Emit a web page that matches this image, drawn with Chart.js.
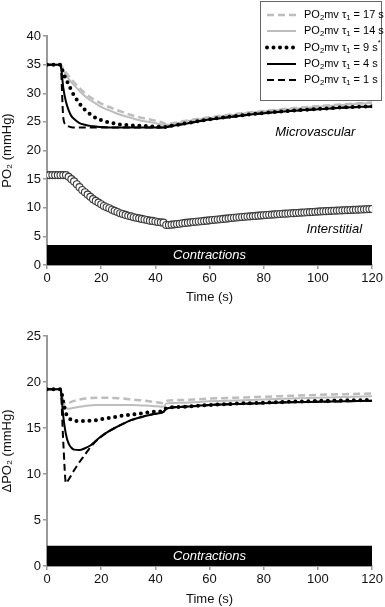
<!DOCTYPE html>
<html><head><meta charset="utf-8">
<script src="https://cdn.jsdelivr.net/npm/chart.js@4.4.1/dist/chart.umd.min.js"></script>
<style>
html,body{margin:0;padding:0;background:#fff;width:385px;height:607px;overflow:hidden}
#c1{position:absolute;left:0;top:0}
#c2{position:absolute;left:0;top:300px}
</style></head><body>
<canvas id="c1" width="385" height="305"></canvas>
<canvas id="c2" width="385" height="307"></canvas>
<script>
// ---------- DATA ----------
const xTicks = [0, 20, 40, 60, 80, 100, 120];
const legendLabels = ['17 s', '14 s', '9 s', '4 s', '1 s'];

// Microvascular PO2 (top panel)
const timeMv = [0,5,6,7,8,9,10,12,14,16,18,20,22,25,28,31,35,39,43,44,50,60,70,80,90,100,110,120];
const mvTau1  = [35,35,25.8,24.5,24.2,24.05,24,24,24,24,24,24,24,24,24,24,24,24,24,24.1,24.6,25.4,26.0,26.5,26.9,27.2,27.5,27.7];
const mvTau4  = [35,35,31.0,28.5,27.0,26.0,25.5,24.8,24.5,24.3,24.2,24.1,24.05,24,24,24,24,24,24,24.1,24.6,25.4,26.0,26.5,26.9,27.2,27.5,27.7];
const mvTau9  = [35,35,33.5,32.5,31.5,30.5,29.6,28.2,27.1,26.3,25.7,25.3,25.0,24.7,24.5,24.4,24.3,24.2,24.1,24.15,24.65,25.45,26.05,26.55,26.95,27.25,27.55,27.75];
const mvTau14 = [35,35,34.0,33.2,32.5,31.9,31.4,30.4,29.5,28.8,28.2,27.6,27.2,26.6,26.1,25.7,25.2,24.9,24.5,24.5,25.0,25.7,26.3,26.8,27.25,27.65,28.0,28.3];
const mvTau17 = [35,35,34.3,33.6,33.0,32.4,31.9,30.9,30.0,29.3,28.7,28.2,27.8,27.2,26.7,26.2,25.7,25.3,24.8,24.6,25.1,25.8,26.4,26.9,27.35,27.75,28.1,28.4];

// Interstitial PO2 (top panel, circles)
const timeIs = [0,1,2,3,4,5,6,7,8,9,10,11,12,13,14,15,16,17,18,19,20,21,22,23,24,25,26,27,28,29,30,
  31,32,33,34,35,36,37,38,39,40,41,42,43,44,45,46,47,48,49,50,51,52,53,54,55,56,57,58,59,60,
  61,62,63,64,65,66,67,68,69,70,71,72,73,74,75,76,77,78,79,80,81,82,83,84,85,86,87,88,89,90,
  91,92,93,94,95,96,97,98,99,100,101,102,103,104,105,106,107,108,109,110,111,112,113,114,115,116,117,118,119,120];
const isPO2 = [15.7,15.7,15.7,15.7,15.7,15.7,15.7,15.7,15.4,15.0,14.6,14.1,13.6,13.1,12.7,12.3,11.9,11.5,11.2,10.9,10.6,
  10.3,10.1,9.9,9.65,9.45,9.25,9.05,8.9,8.75,8.6,
  8.5,8.35,8.25,8.15,8.05,7.95,7.85,7.75,7.7,7.6,7.5,7.45,7.4,7.0,7.0,7.05,7.1,7.15,7.2,7.3,
  7.35,7.4,7.45,7.5,7.55,7.6,7.65,7.7,7.75,7.8,
  7.85,7.9,7.95,8.0,8.05,8.1,8.15,8.2,8.25,8.3,8.34,8.38,8.42,8.46,8.5,8.54,8.58,8.62,8.66,8.7,
  8.74,8.77,8.8,8.84,8.87,8.9,8.94,8.97,9.0,9.03,9.06,9.09,9.12,9.15,9.18,9.21,9.24,9.27,9.3,9.33,
  9.36,9.38,9.41,9.43,9.46,9.48,9.5,9.53,9.55,9.57,9.59,9.61,9.63,9.65,9.68,9.7,9.72,9.74,9.76,9.78];

// Delta PO2 (bottom panel)
const timeD = [0,5,6,7,8,9,10,12,14,16,18,20,22,25,28,31,35,39,43,44,50,60,70,80,90,100,110,120];
const dTau1  = [19.2,19.2,13.5,9.0,9.4,9.9,10.4,11.3,12.1,12.9,13.55,14.05,14.5,15.0,15.45,15.85,16.2,16.5,16.75,17.1,17.3,17.5,17.6,17.7,17.8,17.85,17.9,17.95];
const dTau4  = [19.2,19.2,16.3,14.3,13.3,12.85,12.65,12.6,12.8,13.1,13.6,14.1,14.5,15.0,15.45,15.85,16.2,16.5,16.75,17.1,17.3,17.5,17.6,17.7,17.8,17.85,17.9,17.95];
const dTau9  = [19.2,19.2,17.8,16.6,16.1,15.9,15.8,15.75,15.75,15.8,15.85,15.95,16.05,16.2,16.35,16.45,16.6,16.75,16.85,17.15,17.3,17.5,17.65,17.75,17.85,17.95,18.0,18.05];
const dTau14 = [19.2,19.2,17.8,17.2,17.1,17.15,17.2,17.3,17.4,17.45,17.5,17.5,17.5,17.5,17.5,17.5,17.45,17.4,17.3,17.65,17.75,17.9,18.0,18.1,18.2,18.3,18.38,18.45];
const dTau17 = [19.2,19.2,18.0,17.6,17.7,17.85,17.95,18.1,18.2,18.25,18.3,18.3,18.3,18.25,18.2,18.1,18.0,17.85,17.7,17.95,18.05,18.2,18.3,18.4,18.5,18.6,18.68,18.75];

// Contractions bar (x range and bar height, in axis units)
const contractionRange = [0, 120];
const barTop = 3.5;
const barBottomPanel = 2.2;

// ---------- HELPERS ----------
const FONT = "'Liberation Sans', Arial, Helvetica, sans-serif";
const GRAY = '#bdbdbd';
const AXIS = '#9a9a9a';
const pts = (xs, ys) => xs.map((x, i) => ({x, y: ys[i]}));

function lineStyles() {
  return {
    tau1:  {borderColor:'#000', borderWidth:2, borderDash:[7,4]},
    tau4:  {borderColor:'#000', borderWidth:2, borderDash:[]},
    tau9:  {borderColor:'#000', borderWidth:4, borderDash:[0,6.5], borderCapStyle:'round'},
    tau14: {borderColor:GRAY, borderWidth:2, borderDash:[]},
    tau17: {borderColor:GRAY, borderWidth:2.5, borderDash:[7,4]}
  };
}
function lineDs(label, data, style) {
  return Object.assign({type:'line', label, data, pointRadius:0, fill:false,
    cubicInterpolationMode:'monotone', borderCapStyle:'butt', borderJoinStyle:'round'}, style);
}
function barDs(h) {
  return {type:'line', label:'bar', data:[{x:contractionRange[0], y:h},{x:contractionRange[1], y:h}],
    fill:'origin', backgroundColor:'#000', borderColor:'#000', borderWidth:0, pointRadius:0};
}

function drawRich(ctx, parts, x, y, size) {
  let cx = x;
  parts.forEach(p => {
    const s = p.sub || p.sup ? Math.round(size * 7) / 10 : size;
    ctx.font = s + 'px ' + FONT;
    const dy = p.sub ? Math.round(size * 3) / 10 : (p.sup ? -Math.round(size * 4) / 10 : 0);
    ctx.fillText(p.t, cx, y + dy);
    cx += ctx.measureText(p.t).width;
  });
}

const textPlugin = {
  id: 'panelText',
  afterDatasetsDraw(chart, args, opts) {
    const {ctx, scales:{x, y}} = chart;
    ctx.save();
    ctx.textAlign = 'center';
    ctx.textBaseline = 'middle';
    ctx.fillStyle = '#fff';
    ctx.font = 'italic 13px ' + FONT;
    ctx.fillText('Contractions', x.getPixelForValue((contractionRange[0]+contractionRange[1])/2),
      (y.getPixelForValue(opts.barH) + y.getPixelForValue(0)) / 2 + 0.5);
    ctx.fillStyle = '#000';
    (opts.labels || []).forEach(l => {
      ctx.fillText(l.text, x.getPixelForValue(l.x), y.getPixelForValue(l.y));
    });
    ctx.restore();
  }
};

const legendPlugin = {
  id: 'richLegend',
  afterDraw(chart, args, opts) {
    if (!opts.show) return;
    const ctx = chart.ctx;
    const order = [4, 3, 2, 1, 0];
    const rows = [15, 31, 47.5, 64, 80];
    ctx.save();
    ctx.fillStyle = '#fff';
    ctx.fillRect(260.5, 1.5, 121, 99);
    ctx.strokeStyle = '#666';
    ctx.lineWidth = 1;
    ctx.strokeRect(260.5, 1.5, 121, 99);
    order.forEach((di, i) => {
      const ds = chart.data.datasets[di];
      const yy = rows[i];
      ctx.beginPath();
      ctx.setLineDash(ds.borderDash || []);
      ctx.lineCap = ds.borderCapStyle || 'butt';
      ctx.strokeStyle = ds.borderColor;
      ctx.lineWidth = ds.borderWidth;
      ctx.moveTo(267, yy);
      ctx.lineTo(296, yy);
      ctx.stroke();
      ctx.setLineDash([]);
      ctx.fillStyle = '#000';
      ctx.textAlign = 'left';
      ctx.textBaseline = 'middle';
      const lab = legendLabels[i];
      const parts = [{t:'PO'},{t:'2',sub:true},{t:'mv τ'},{t:'1',sub:true},{t:' = ' + lab}];
      if (lab === '9 s') parts.push({t:'*', sup:true});
      drawRich(ctx, parts, 304, yy, 11);
    });
    ctx.restore();
  }
};

function scalesFor(yMax, yTitle, xHeight) {
  const grid = {display:true, drawOnChartArea:false, drawTicks:true, tickLength:4, color:AXIS, lineWidth:1.5};
  return {
    x: {type:'linear', min:0, max:120, afterBuildTicks: s => { s.ticks = xTicks.map(v => ({value:v})); },
        ticks:{color:'#111', padding:2, maxRotation:0, font:{family:FONT, size:13}},
        grid, border:{display:true, color:AXIS, width:2},
        title:{display:true, text:'Time (s)', color:'#111', padding:{top:0,bottom:0}, font:{family:FONT, size:13}},
        afterFit: s => { s.height = xHeight; }},
    y: {type:'linear', min:0, max:yMax, ticks:{stepSize:5, color:'#111', padding:2, font:{family:FONT, size:13}},
        grid, border:{display:true, color:AXIS, width:2},
        title:{display:true, text:yTitle, color:'#111', padding:{top:0,bottom:0}, font:{family:FONT, size:13}},
        afterFit: s => { s.width = 47; }}
  };
}

const st = lineStyles();

new Chart(document.getElementById('c1'), {
  data: {datasets: [
    lineDs('PO2mv τ1 = 1 s',  pts(timeMv, mvTau1),  st.tau1),
    lineDs('PO2mv τ1 = 4 s',  pts(timeMv, mvTau4),  st.tau4),
    lineDs('PO2mv τ1 = 9 s',  pts(timeMv, mvTau9),  st.tau9),
    lineDs('PO2mv τ1 = 14 s', pts(timeMv, mvTau14), st.tau14),
    lineDs('PO2mv τ1 = 17 s', pts(timeMv, mvTau17), st.tau17),
    {type:'line', label:'Interstitial', data: pts(timeIs, isPO2), showLine:false,
     pointRadius:3.5, pointBackgroundColor:'#fff', pointBorderColor:'#3c3c3c', pointBorderWidth:1.1},
    barDs(barTop)
  ]},
  options: {
    responsive:false, animation:false, devicePixelRatio:1,
    layout:{padding:{top:36, right:11, bottom:0, left:0}},
    plugins:{legend:{display:false}, tooltip:{enabled:false},
      panelText:{barH:barTop, labels:[{text:'Microvascular', x:99, y:23.1},{text:'Interstitial', x:106, y:6.3}]},
      richLegend:{show:true}},
    scales: scalesFor(40, 'PO₂ (mmHg)', 40)
  },
  plugins:[textPlugin, legendPlugin]
});

new Chart(document.getElementById('c2'), {
  data: {datasets: [
    lineDs('τ1 = 1 s',  pts(timeD, dTau1),  st.tau1),
    lineDs('τ1 = 4 s',  pts(timeD, dTau4),  st.tau4),
    lineDs('τ1 = 9 s',  pts(timeD, dTau9),  st.tau9),
    lineDs('τ1 = 14 s', pts(timeD, dTau14), st.tau14),
    lineDs('τ1 = 17 s', pts(timeD, dTau17), st.tau17),
    barDs(barBottomPanel)
  ]},
  options: {
    responsive:false, animation:false, devicePixelRatio:1,
    layout:{padding:{top:36, right:10, bottom:0, left:0}},
    plugins:{legend:{display:false}, tooltip:{enabled:false},
      panelText:{barH:barBottomPanel, labels:[]}, richLegend:{show:false}},
    scales: scalesFor(25, 'ΔPO₂ (mmHg)', 41)
  },
  plugins:[textPlugin, legendPlugin]
});
</script>
</body></html>
